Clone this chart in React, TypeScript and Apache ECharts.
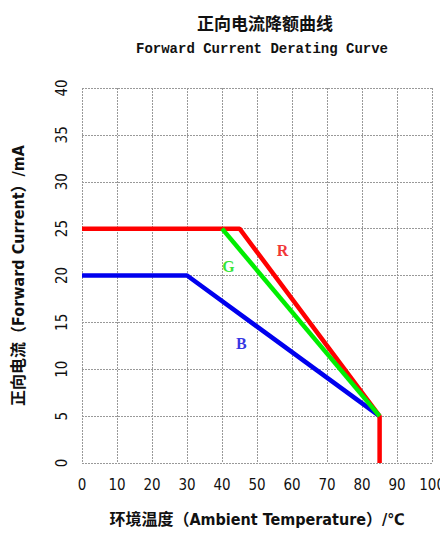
import React, { useEffect, useRef } from "react";
import * as echarts from "echarts";

const titleCN = "正向电流降额曲线";
const titleEN = "Forward Current Derating Curve";
const xName = "环境温度（Ambient Temperature）/℃";
const yName = "正向电流（Forward Current）/mA";

const redData: [number, number][] = [[0, 25], [45, 25], [85, 5], [85, 0]];
const greenData: [number, number][] = [[40, 25], [85, 5]];
const blueData: [number, number][] = [[0, 20], [30, 20], [85, 5]];

const labelR: [number, number] = [57.3, 22.7];
const labelG: [number, number] = [41.8, 21.0];
const labelB: [number, number] = [45.5, 12.8];

const MONO = "'Liberation Mono', 'Noto Sans CJK SC', monospace";
const NARROW = "'Liberation Sans Narrow', 'DejaVu Sans Condensed', 'Noto Sans CJK SC', sans-serif";

export default function App() {
  const ref = useRef<HTMLDivElement>(null);
  useEffect(() => {
    if (!ref.current) return;
    const chart = echarts.init(ref.current, undefined, { renderer: "svg" });
    const lineSeries = (name: string, data: [number, number][], color: string) => ({
      type: "line",
      name,
      data,
      showSymbol: false,
      symbol: "none",
      lineStyle: { color, width: 4.5 },
      itemStyle: { color },
      z: name === "R" ? 3 : name === "G" ? 4 : 2,
    });
    const labelSeries = (text: string, pos: [number, number], color: string) => ({
      type: "scatter",
      data: [pos],
      symbolSize: 0,
      label: {
        show: true,
        position: "inside",
        formatter: text,
        color,
        fontSize: 16,
        fontWeight: "bold",
        fontFamily: "'Liberation Serif', serif",
      },
      silent: true,
    });
    chart.setOption({
      animation: false,
      title: [
        {
          text: titleCN,
          left: 260,
          textAlign: "center",
          top: 9,
          textStyle: { fontFamily: "'Noto Sans CJK SC', sans-serif", fontSize: 17, fontWeight: "bold", color: "#111" },
        },
        {
          text: titleEN,
          left: 257,
          textAlign: "center",
          top: 37,
          textStyle: { fontFamily: MONO, fontSize: 14, fontWeight: "bold", color: "#111" },
        },
      ],
      grid: { left: 82, right: 12, top: 88, bottom: 73 },
      xAxis: {
        type: "value",
        min: 0,
        max: 100,
        interval: 10,
        name: xName,
        nameLocation: "middle",
        nameGap: 48,
        nameTextStyle: { fontFamily: NARROW, fontSize: 16, fontWeight: "bold", color: "#111" },
        axisLine: { show: false },
        axisTick: { show: false },
        axisLabel: { fontFamily: NARROW, fontSize: 15, color: "#111", margin: 14 },
        splitLine: { show: true, lineStyle: { color: "#999", type: [2, 1], width: 1 } },
      },
      yAxis: {
        type: "value",
        min: 0,
        max: 40,
        interval: 5,
        name: yName,
        nameLocation: "middle",
        nameGap: 56,
        nameTextStyle: { fontFamily: NARROW, fontSize: 16, fontWeight: "bold", color: "#111" },
        axisLine: { show: false },
        axisTick: { show: false },
        axisLabel: { fontFamily: NARROW, fontSize: 15, color: "#111", rotate: 90, margin: 13 },
        splitLine: { show: true, lineStyle: { color: "#999", type: [2, 1], width: 1 } },
      },
      series: [
        lineSeries("B", blueData, "#0000ee"),
        lineSeries("R", redData, "#ff0000"),
        lineSeries("G", greenData, "#00ee00"),
        labelSeries("R", labelR, "#ee0000"),
        labelSeries("G", labelG, "#00dd00"),
        labelSeries("B", labelB, "#0000dd"),
      ],
    });
    return () => chart.dispose();
  }, []);
  return <div ref={ref} style={{ width: 448, height: 536, margin: -8 }} />;
}
